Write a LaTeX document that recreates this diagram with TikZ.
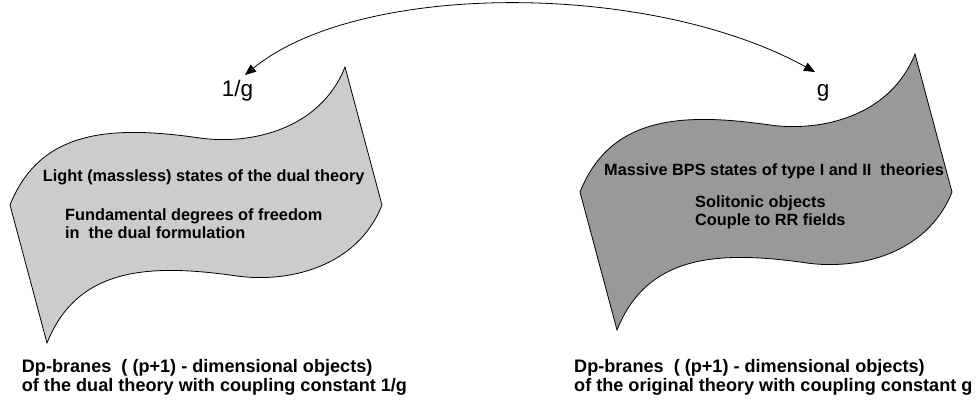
\documentclass[tikz,border=0pt]{standalone}
\usepackage{fontspec}
\setmainfont{Liberation Sans}
\usetikzlibrary{arrows.meta}

\definecolor{lightbrane}{HTML}{CCCCCC}
\definecolor{darkbrane}{HTML}{999999}

% one wavy brane sheet, drawn in pixel units
\newcommand{\branesheet}{(10,205) .. controls (40,130) and (110,125) .. (200,138)
  .. controls (250,145) and (320,130) .. (345,67) -- (382,205)
  .. controls (357,268) and (287,283) .. (237,276)
  .. controls (147,263) and (77,268) .. (47,343) -- cycle}

\tikzset{
  brane/.style={draw=black, line width=0.8pt},
  statetext/.style={font=\fontsize{16.3}{18}\selectfont\bfseries, anchor=base west, inner sep=0pt, align=left},
  captiontext/.style={font=\fontsize{18.1}{18.3}\selectfont\bfseries, anchor=base west, inner sep=0pt, align=left},
  coupling/.style={font=\fontsize{22.5}{24}\selectfont, anchor=base west, inner sep=0pt},
  duality/.style={{Triangle[length=11pt,width=9pt]}-{Triangle[length=11pt,width=9pt]}, line width=0.8pt}
}

\begin{document}
\begin{tikzpicture}[x=1pt, y=-1pt]
\useasboundingbox (0,0) rectangle (977,405);

% branes
\fill[lightbrane] \branesheet;
\draw[brane] \branesheet;
\begin{scope}[shift={(570,-13)}]
  \fill[darkbrane] \branesheet;
  \draw[brane] \branesheet;
\end{scope}

% couplings
\node[coupling] (invg) at (221.7,96.7) {1/g};
\node[coupling] (g) at (816.7,96.7) {g};
\coordinate (ltip) at (245,75);
\coordinate (rtip) at (815,72);
\draw[duality] (ltip) .. controls (360,-19) and (650,-19) .. (rtip);

% left brane texts (base = last line)
\node[statetext] (light) at (42.7,181.7) {Light (massless) states of the dual theory};
\node[statetext] (fund) at (65,238) {Fundamental degrees of freedom\\in\ \ the dual formulation};
\node[captiontext] (dualcap) at (21.7,391) {Dp-branes\ \ ( (p+1) - dimensional objects)\\of the dual theory with coupling constant 1/g};

% right brane texts
\node[statetext] (massive) at (604,175) {Massive BPS states of type I and II\ \ theories};
\node[statetext] (soliton) at (695,225) {Solitonic objects\\Couple to RR fields};
\node[captiontext] (origcap) at (574,391) {Dp-branes\ \ ( (p+1) - dimensional objects)\\of the original theory with coupling constant g};
\end{tikzpicture}
\end{document}
